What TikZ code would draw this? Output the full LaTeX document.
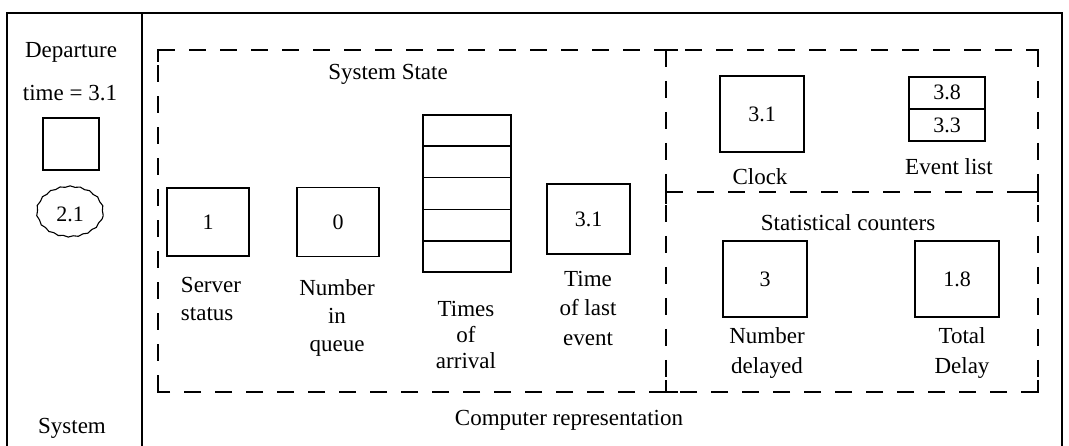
\documentclass[tikz,border=0pt]{standalone}
\usepackage{fontspec}
\setmainfont{Liberation Serif}
\usetikzlibrary{calc,decorations.pathmorphing,shapes.geometric}
\begin{document}
\begin{tikzpicture}[x=1pt,y=-1pt,
  every node/.style={font=\fontsize{23}{28}\selectfont},
  box/.style={draw, line width=1.4pt, inner sep=0pt},
  num/.style={font=\fontsize{22}{26}\selectfont},
  lbl/.style={align=center, inner sep=0pt},
  frameline/.style={line width=1.6pt},
  dsh/.style={line width=1.5pt, dash pattern=on 17pt off 14pt},
  joint/.style={line width=1.5pt}]
\useasboundingbox (0,0) rectangle (1069,446);
\fill[white] (0,0) rectangle (1069,446);
% outer frame
\coordinate (fBL) at (7,446);
\coordinate (fTL) at (7,13);
\coordinate (fTR) at (1062,13);
\coordinate (fBR) at (1062,446);
\coordinate (fDT) at (142,13);
\coordinate (fDB) at (142,446);
\draw[frameline] (fBL) -- (fTL) -- (fTR) -- (fBR);
\draw[frameline] (fDT) -- (fDB);
% dashed regions
\coordinate (dTL) at (158,50);
\coordinate (dTR) at (1038,50);
\coordinate (dBL) at (158,392);
\coordinate (dBR) at (1038,392);
\coordinate (dMT) at (666,50);
\coordinate (dMB) at (666,392);
\coordinate (dML) at (666,192);
\coordinate (dMR) at (1038,192);
\draw[dsh] (dTL) -- (dTR);
\draw[dsh] (dTR) -- (dBR);
\draw[dsh] (dBR) -- (dBL);
\draw[dsh] (dBL) -- (dTL);
\draw[dsh] (dMT) -- (dMB);
\draw[dsh] (dML) -- (dMR);
% corner and joint pieces
\draw[joint] ($(dTL)+(0,12)$) -- (dTL) -- ($(dTL)+(12,0)$);
\draw[joint] ($(dTR)+(0,12)$) -- (dTR) -- ($(dTR)+(-12,0)$);
\draw[joint] ($(dBL)+(0,-12)$) -- (dBL) -- ($(dBL)+(12,0)$);
\draw[joint] ($(dBR)+(0,-12)$) -- (dBR) -- ($(dBR)+(-12,0)$);
\draw[joint] ($(dMT)+(-12,0)$) -- ($(dMT)+(12,0)$) (dMT) -- ($(dMT)+(0,12)$);
\draw[joint] ($(dMB)+(-12,0)$) -- ($(dMB)+(12,0)$) (dMB) -- ($(dMB)+(0,-12)$);
\draw[joint] ($(dML)+(0,-12)$) -- ($(dML)+(0,12)$) (dML) -- ($(dML)+(12,0)$);
\draw[joint] ($(dMR)+(0,-10)$) -- ($(dMR)+(0,10)$) (dMR) -- ($(dMR)+(-14,0)$);
% left panel: System
\node (dep) at (71,52) {Departure};
\node (dtime) at (70,93) {time = 3.1};
\node[box, minimum width=56pt, minimum height=52pt] (dbox) at (71,144) {};
\node[draw, line width=1.1pt, ellipse, num, minimum width=66pt, minimum height=50pt,
      decorate, decoration={snake, segment length=10pt, amplitude=0.6pt}] (evc) at (70,214) {2.1};
\node (sys) at (72,428) {System};
% system state
\node (sstate) at (388,74) {System State};
\node[box, num, minimum width=82pt, minimum height=68pt] (ss) at (208,222) {1};
\node[box, num, minimum width=82pt, minimum height=69pt] (nq) at (338,222) {0};
\node[box, minimum width=88pt, minimum height=157pt] (toa) at (467,193.5) {};
\foreach \k in {1,2,3,4}
  \draw[line width=1.4pt] ($(toa.north west)!\k/5!(toa.south west)$) -- ($(toa.north east)!\k/5!(toa.south east)$);
\node[box, num, minimum width=83pt, minimum height=70pt] (tle) at (588.5,219) {3.1};
\node[lbl, align=left] (ssl) at (211,299) {Server\\status};
\node[lbl] (nql) at (337,318) {Number\\in\\queue};
\node[lbl, font=\fontsize{23}{26}\selectfont] (toal) at (466,335) {Times\\of\\arrival};
\node[lbl, font=\fontsize{23}{29.5}\selectfont] (tlel) at (588,308) {Time\\of last\\event};
% clock and event list
\node[box, num, minimum width=84pt, minimum height=76pt] (clk) at (762,114) {3.1};
\node (clkl) at (760,177) {Clock};
\node[box, minimum width=76pt, minimum height=64pt] (evl) at (947,109) {};
\draw[line width=1.4pt] (evl.west) -- (evl.east);
\node[num] (e1) at ($(evl.north)!0.5!(evl.center)$) {3.8};
\node[num] (e2) at ($(evl.center)!0.5!(evl.south)$) {3.3};
\node (evll) at (949,167) {Event list};
% statistical counters
\node (stc) at (848,223) {Statistical counters};
\node[box, num, minimum width=84pt, minimum height=76pt] (nd) at (765,279) {3};
\node[box, num, minimum width=84pt, minimum height=76pt] (td) at (957,279) {1.8};
\node[lbl, font=\fontsize{23}{30}\selectfont] (ndl) at (767,353) {Number\\delayed};
\node[lbl, font=\fontsize{23}{30}\selectfont] (tdl) at (962,353) {Total\\Delay};
% caption
\node (comp) at (569,420) {Computer representation};
\end{tikzpicture}
\end{document}
